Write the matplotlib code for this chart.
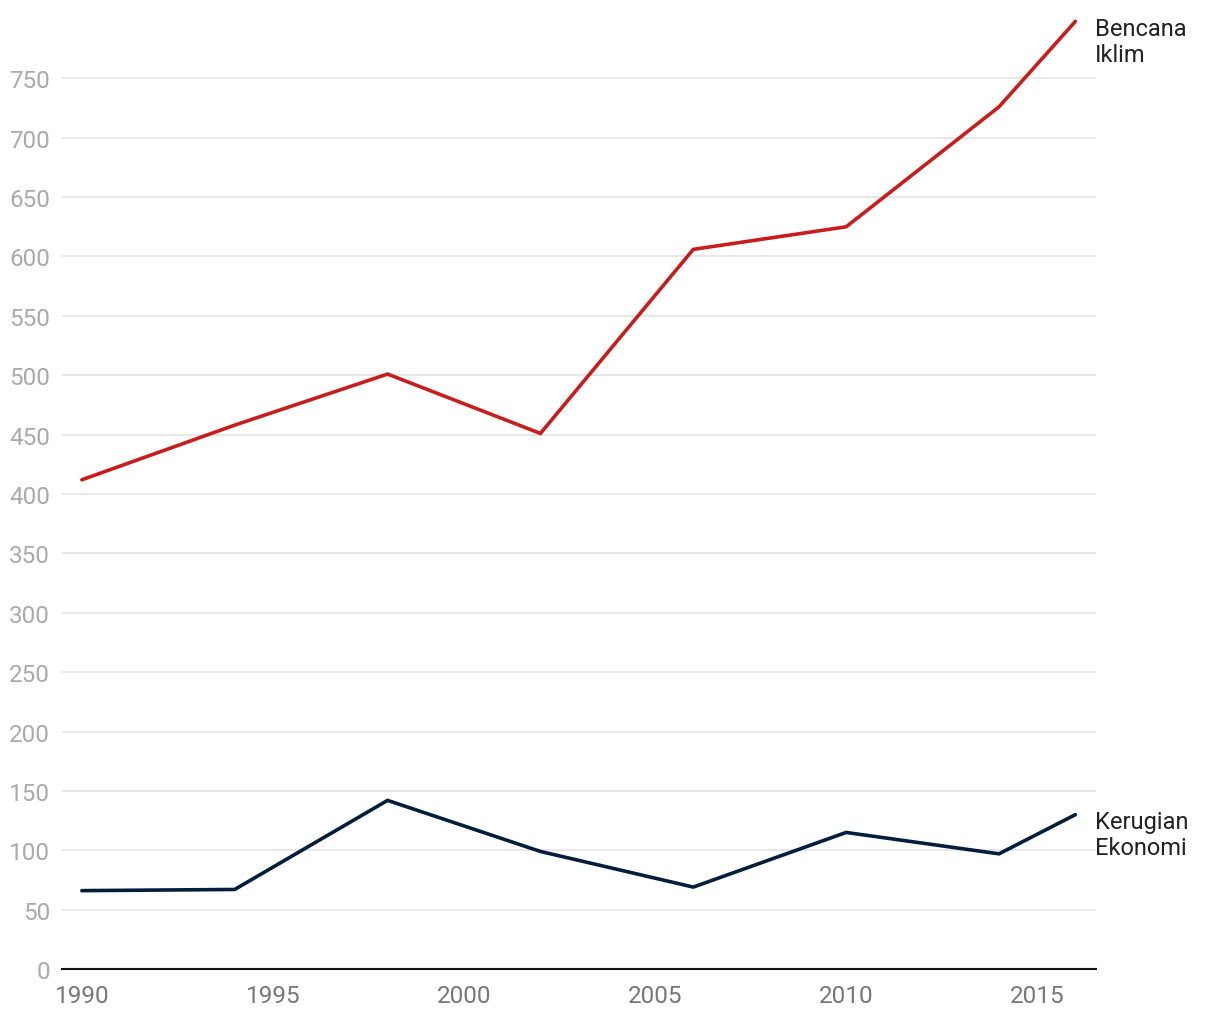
import matplotlib
matplotlib.use('Agg')
import matplotlib.pyplot as plt

plt.rcParams['font.family'] = ['Roboto', 'DejaVu Sans']

# data
years = [1990, 1994, 1998, 2002, 2006, 2010, 2014, 2016]
bencana = [412, 458, 501, 451, 606, 625, 726, 798]
kerugian = [66, 67, 142, 99, 69, 115, 97, 130]
yticks = [0, 50, 100, 150, 200, 250, 300, 350, 400, 450, 500, 550, 600, 650, 700, 750]
xticks = [1990, 1995, 2000, 2005, 2010, 2015]

fig = plt.figure(figsize=(12.2, 10.2), dpi=100)
ax = fig.add_axes([0.0508, 0.049, 0.8476, 0.9314])

ax.plot(years, bencana, color='#c71e1d', lw=2.6, solid_capstyle='round', solid_joinstyle='miter')
ax.plot(years, kerugian, color='#031d3d', lw=2.6, solid_capstyle='round', solid_joinstyle='miter')

ax.set_xlim(1989.48, 2016.54)
ax.set_ylim(0, 800)
ax.set_yticks(yticks)
ax.set_xticks(xticks)
ax.grid(axis='y', color='#e3e3e3', lw=1.2)
ax.set_axisbelow(True)
for s in ['top', 'right', 'left']:
    ax.spines[s].set_visible(False)
ax.spines['bottom'].set_color('#111111')
ax.spines['bottom'].set_linewidth(1.5)
ax.tick_params(axis='y', length=0, labelsize=17.5, labelcolor='#aaaaaa', pad=8.5)
ax.tick_params(axis='x', length=0, labelsize=17.5, labelcolor='#777777', pad=11)

ax.annotate('Bencana\nIklim', (years[-1], bencana[-1]), xytext=(14, 3.5),
            textcoords='offset points', ha='left', va='top', fontsize=17,
            color='#222222', linespacing=1.2, annotation_clip=False)
ax.annotate('Kerugian\nEkonomi', (years[-1], kerugian[-1]), xytext=(14, 3.5),
            textcoords='offset points', ha='left', va='top', fontsize=17,
            color='#222222', linespacing=1.2, annotation_clip=False)

fig.savefig('out.png', dpi=100)
